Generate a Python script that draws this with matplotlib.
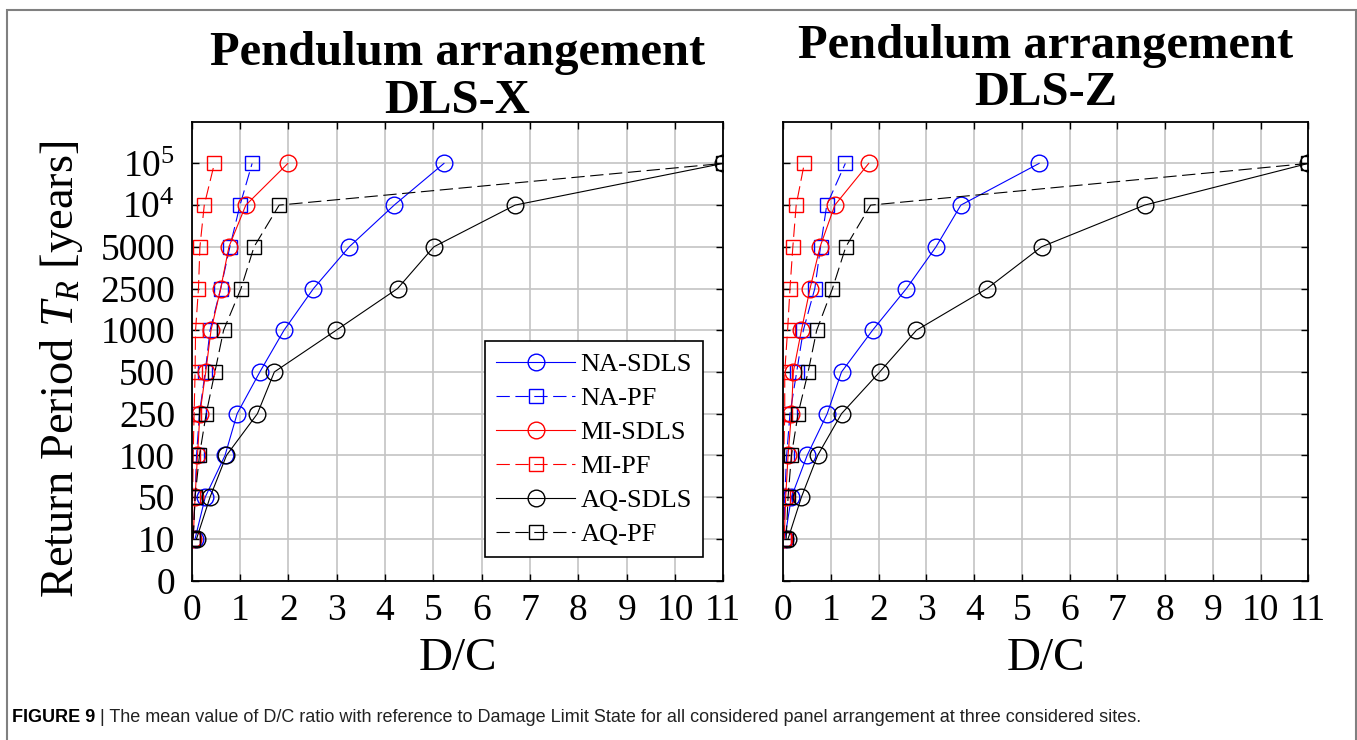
import matplotlib
matplotlib.use('Agg')
import matplotlib.pyplot as plt
from matplotlib.patches import Rectangle

plt.rcParams['font.family'] = 'Liberation Serif'
plt.rcParams['mathtext.fontset'] = 'custom'
plt.rcParams['mathtext.rm'] = 'Liberation Serif'
plt.rcParams['mathtext.it'] = 'Liberation Serif:italic'
plt.rcParams['mathtext.bf'] = 'Liberation Serif:bold'

# return periods, plotted on an evenly spaced (categorical) axis
ytick_labels = ['0', '10', '50', '100', '250', '500', '1000', '2500', '5000',
                '$10^4$', '$10^5$']
rp_pos = list(range(1, 11))  # 10 ... 10^5

# mean D/C ratios, DLS-X
x_na_sdls = [0.07, 0.28, 0.69, 0.94, 1.41, 1.91, 2.52, 3.26, 4.19, 5.22]
x_na_pf = [0.03, 0.07, 0.10, 0.16, 0.28, 0.38, 0.60, 0.79, 1.00, 1.25]
x_mi_sdls = [0.03, 0.07, 0.12, 0.17, 0.29, 0.40, 0.60, 0.77, 1.12, 1.99]
x_mi_pf = [0.02, 0.02, 0.03, 0.05, 0.07, 0.08, 0.14, 0.17, 0.26, 0.47]
x_aq_sdls = [0.10, 0.38, 0.72, 1.36, 1.71, 2.99, 4.26, 5.01, 6.69, 11.0]
x_aq_pf = [0.03, 0.07, 0.16, 0.30, 0.48, 0.66, 1.02, 1.29, 1.81, 11.0]

# mean D/C ratios, DLS-Z
z_na_sdls = [0.03, 0.17, 0.50, 0.92, 1.22, 1.87, 2.58, 3.20, 3.72, 5.36]
z_na_pf = [0.02, 0.03, 0.07, 0.14, 0.28, 0.42, 0.66, 0.78, 0.91, 1.30]
z_mi_sdls = [0.02, 0.05, 0.10, 0.17, 0.21, 0.38, 0.56, 0.77, 1.08, 1.79]
z_mi_pf = [0.01, 0.00, 0.01, 0.03, 0.03, 0.09, 0.14, 0.20, 0.27, 0.44]
z_aq_sdls = [0.10, 0.38, 0.72, 1.22, 2.02, 2.79, 4.27, 5.41, 7.57, 11.0]
z_aq_pf = [0.06, 0.10, 0.17, 0.31, 0.52, 0.70, 1.03, 1.31, 1.83, 11.0]

labels = ['NA-SDLS', 'NA-PF', 'MI-SDLS', 'MI-PF', 'AQ-SDLS', 'AQ-PF']
colors = ['#0000ff', '#0000ff', '#ff0000', '#ff0000', 'k', 'k']
dashed = [False, True, False, True, False, True]

W, H = 1357, 740
fig = plt.figure(figsize=(W / 100, H / 100), dpi=100)

# outer frame of the figure panel
fig.patches.append(Rectangle((7 / W, -0.01), (1355.5 - 7) / W, (H - 10) / H + 0.01,
                             transform=fig.transFigure, fill=False,
                             edgecolor='#808080', lw=1.5))

ax1 = fig.add_axes([191.7 / W, (H - 580.5) / H, 531.6 / W, 458.8 / H])
ax2 = fig.add_axes([783.3 / W, (H - 580.5) / H, 525.0 / W, 458.8 / H])

panels = [
    (ax1, [x_na_sdls, x_na_pf, x_mi_sdls, x_mi_pf, x_aq_sdls, x_aq_pf]),
    (ax2, [z_na_sdls, z_na_pf, z_mi_sdls, z_mi_pf, z_aq_sdls, z_aq_pf]),
]

for ax, series in panels:
    for vals, lab, c, d in zip(series, labels, colors, dashed):
        if d:
            ax.plot(vals, rp_pos, color=c, lw=0.8, dashes=(12, 5),
                    marker='s', ms=10, mfc='none', mec=c, mew=1.0, label=lab)
        else:
            ax.plot(vals, rp_pos, color=c, lw=0.8, marker='o', ms=12,
                    mfc='none', mec=c, mew=1.0, label=lab)
    ax.set_xlim(0, 11)
    ax.set_ylim(0, 11)
    ax.set_xticks(range(0, 12))
    ax.set_yticks(range(0, 11))
    ax.grid(True, color='#c4c4c4', lw=1.2)
    ax.set_axisbelow(True)
    ax.tick_params(direction='in', length=5, width=1, top=True, right=True,
                   labelsize=27)
    ax.tick_params(axis='x', pad=9)
    ax.tick_params(axis='y', pad=12)
    for sp in ax.spines.values():
        sp.set_linewidth(1.3)
    ax.set_xlabel('D/C', fontsize=34)
    ax.xaxis.set_label_coords(0.5, -0.125)

ax1.set_yticklabels(ytick_labels)
ax2.set_yticklabels([])

ax1.set_ylabel('Return Period $T_R$ [years]', fontsize=33.5)
ax1.yaxis.set_label_coords(-0.2, 0.46)

leg = ax1.legend(loc='lower right', bbox_to_anchor=(0.962, 0.051),
                 fontsize=19, handlelength=3.0, handletextpad=0.2,
                 labelspacing=0.4, borderpad=0.42, borderaxespad=0,
                 fancybox=False, framealpha=1, edgecolor='k', numpoints=1)
leg.get_frame().set_linewidth(1.2)

# two-line bold titles above each panel
fig.text(457.5 / W, 1 - 65 / H, 'Pendulum arrangement', ha='center',
         va='baseline', fontsize=35, fontweight='bold')
fig.text(457.5 / W, 1 - 113 / H, 'DLS-X', ha='center', va='baseline',
         fontsize=35, fontweight='bold')
fig.text(1045.8 / W, 1 - 58 / H, 'Pendulum arrangement', ha='center',
         va='baseline', fontsize=35, fontweight='bold')
fig.text(1045.8 / W, 1 - 105 / H, 'DLS-Z', ha='center', va='baseline',
         fontsize=35, fontweight='bold')

# caption: bold figure number followed by the plain description
cap = fig.text(12 / W, 1 - 718 / H, 'FIGURE 9', ha='left', va='center',
               fontsize=13, fontweight='bold', family='Liberation Sans')
fig.add_artist(plt.Annotation(
    ' | The mean value of D/C ratio with reference to Damage Limit State '
    'for all considered panel arrangement at three considered sites.',
    xy=(1, 0.5), xycoords=cap, ha='left', va='center', fontsize=13,
    family='Liberation Sans', color='#222222'))

fig.savefig('out.png', dpi=100)
